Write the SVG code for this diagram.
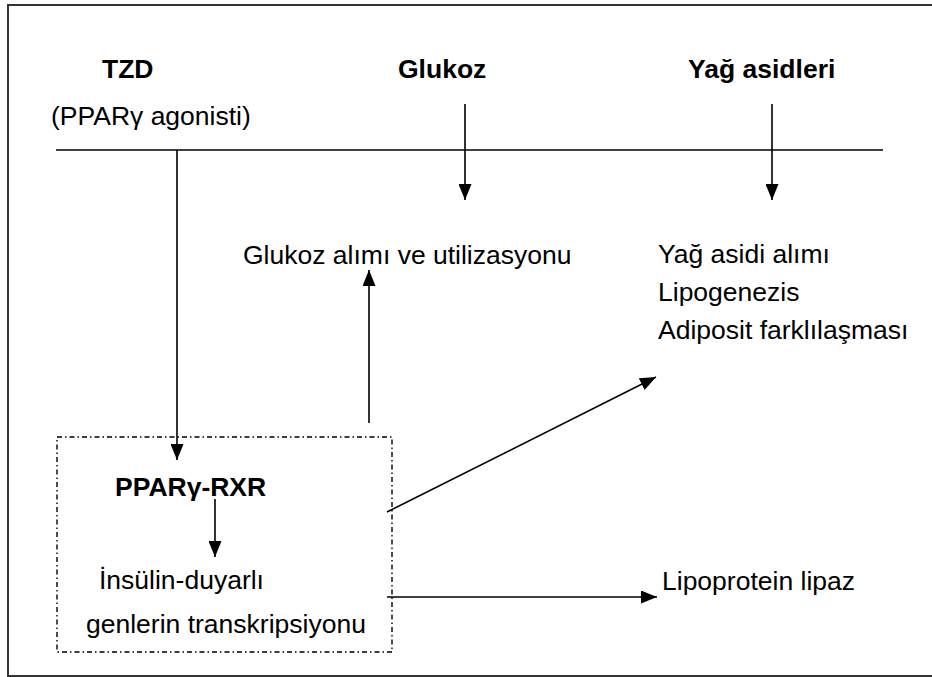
<svg xmlns="http://www.w3.org/2000/svg" width="932" height="677" viewBox="0 0 932 677">
<style>
.t{font-family:"Liberation Sans",Arial,sans-serif;font-size:26.5px;fill:#000}
.b{font-family:"Liberation Sans",Arial,sans-serif;font-size:26.5px;font-weight:bold;fill:#000}
.ln{stroke:#000;stroke-width:1.6;fill:none}
</style>
<defs>
<marker id="ah" viewBox="0 0 16 13" refX="16" refY="6.5" markerWidth="16" markerHeight="13" markerUnits="userSpaceOnUse" orient="auto">
<path d="M0,0 L16,6.5 L0,13 Z" fill="#000"/>
</marker>
</defs>
<rect x="8" y="5" width="930" height="671" fill="#fff" stroke="#333" stroke-width="2"/>
<g id="tzd"><text class="b" x="102" y="78">TZD</text><text class="t" x="51" y="125">(PPARγ agonisti)</text></g>
<g id="glukoz"><text class="b" x="398" y="78">Glukoz</text></g>
<g id="yag"><text class="b" x="688" y="78">Yağ asidleri</text></g>
<g id="glukozalim"><text class="t" x="243" y="264">Glukoz alımı ve utilizasyonu</text></g>
<g id="yagalim"><text class="t" x="658" y="263">Yağ asidi alımı</text><text class="t" x="658" y="301">Lipogenezis</text><text class="t" x="658" y="339">Adiposit farklılaşması</text></g>
<g id="box">
<rect x="57" y="437" width="335" height="215" fill="none" stroke="#000" stroke-width="1.4" stroke-dasharray="5,3,1.5,3"/>
<text class="b" x="115" y="496">PPARγ-RXR</text>
<text class="t" x="99" y="589">İnsülin-duyarlı</text>
<text class="t" x="86" y="633">genlerin transkripsiyonu</text>
</g>
<g id="lpl"><text class="t" x="662" y="590">Lipoprotein lipaz</text></g>
<g id="connectors">
<line class="ln" x1="56" y1="150" x2="883" y2="150" stroke-width="2"/>
<line class="ln" x1="177" y1="150" x2="177" y2="460" marker-end="url(#ah)"/>
<line class="ln" x1="465" y1="104" x2="465" y2="200" marker-end="url(#ah)"/>
<line class="ln" x1="772" y1="104" x2="772" y2="200" marker-end="url(#ah)"/>
<line class="ln" x1="369" y1="423" x2="369" y2="270" marker-end="url(#ah)"/>
<line class="ln" x1="215" y1="499" x2="215" y2="557" marker-end="url(#ah)"/>
<line class="ln" x1="387" y1="512" x2="656" y2="377" marker-end="url(#ah)"/>
<line class="ln" x1="387" y1="597" x2="657" y2="597" marker-end="url(#ah)"/>
</g>
</svg>
